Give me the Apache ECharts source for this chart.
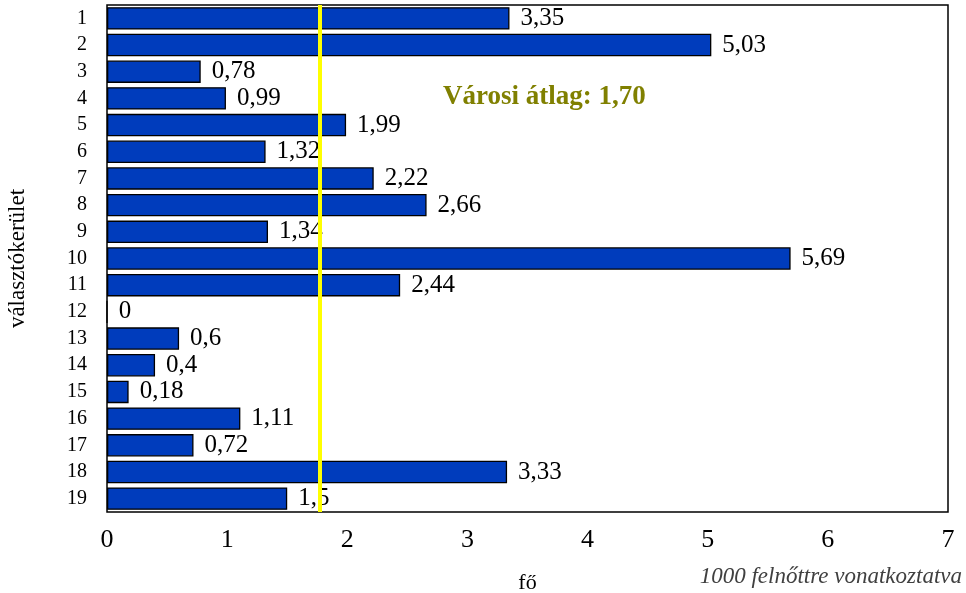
<!DOCTYPE html>
<html>
<head>
    <meta charset="utf-8">
    <title>Választókerületek</title>
    <script src="https://cdn.jsdelivr.net/npm/echarts@6/dist/echarts.min.js"></script>
    <style>
        body { margin: 0; background: #fff; }
        #chart { width: 966px; height: 593px; }
    </style>
</head>
<body>
<div id="chart"></div>
<script>
    // adatok
    var keruletek = ['1','2','3','4','5','6','7','8','9','10','11','12','13','14','15','16','17','18','19'];
    var ertekek = [3.35, 5.03, 0.78, 0.99, 1.99, 1.32, 2.22, 2.66, 1.34, 5.69, 2.44, 0, 0.6, 0.4, 0.18, 1.11, 0.72, 3.33, 1.5];
    var atlagVonal = 1.77;
    var atlagSzoveg = 'Városi átlag: 1,70';
    var xTicks = [0, 7, 1];

    var serif = '"Liberation Serif", "DejaVu Serif", serif';
    var chart = echarts.init(document.getElementById('chart'));

    chart.setOption({
        animation: false,
        textStyle: { fontFamily: serif },
        grid: {
            left: 107, right: 18, top: 5, bottom: 81,
            outerBoundsMode: 'none',
            containLabel: false,
            show: true, borderColor: '#000', borderWidth: 1.5
        },
        xAxis: {
            type: 'value',
            min: xTicks[0], max: xTicks[1], interval: xTicks[2],
            name: 'fő',
            nameLocation: 'middle',
            nameGap: 60,
            nameTextStyle: { fontFamily: serif, fontSize: 22, color: '#000' },
            axisLine: { show: false },
            axisTick: { show: false },
            splitLine: { show: false },
            axisLabel: { fontFamily: serif, fontSize: 26, color: '#000', margin: 15 }
        },
        yAxis: {
            type: 'category',
            data: keruletek,
            inverse: true,
            name: 'választókerület',
            nameLocation: 'middle',
            nameGap: 78,
            nameTextStyle: { fontFamily: serif, fontSize: 23, color: '#000' },
            axisLine: { show: false },
            axisTick: { show: false },
            axisLabel: { fontFamily: serif, fontSize: 20, color: '#000', margin: 20 }
        },
        series: [
            {
                type: 'bar',
                data: ertekek,
                barCategoryGap: '16%',
                z: 3,
                itemStyle: { color: '#003CBC', borderColor: '#000', borderWidth: 1.3 },
                label: {
                    show: true,
                    position: 'right',
                    distance: 11,
                    fontFamily: serif,
                    fontSize: 25,
                    color: '#000',
                    formatter: function (p) { return String(p.value).replace('.', ','); }
                }
            },
            {
                // átlag vonal mindennek a tetején
                type: 'bar',
                data: [],
                barGap: '-100%',
                z: 10,
                markLine: {
                    silent: true,
                    symbol: 'none',
                    label: { show: false },
                    lineStyle: { color: '#FFFF00', width: 4, type: 'solid' },
                    data: [{ xAxis: atlagVonal }]
                }
            }
        ],
        graphic: [
            {
                type: 'text', x: 443, y: 97,
                style: { text: atlagSzoveg, font: 'bold 27px ' + serif, fill: '#808000', verticalAlign: 'middle' }
            },
            {
                type: 'text', right: 4, top: 565,
                style: { text: '1000 felnőttre vonatkoztatva', font: 'italic 23px ' + serif, fill: '#404040' }
            }
        ]
    });
</script>
</body>
</html>
